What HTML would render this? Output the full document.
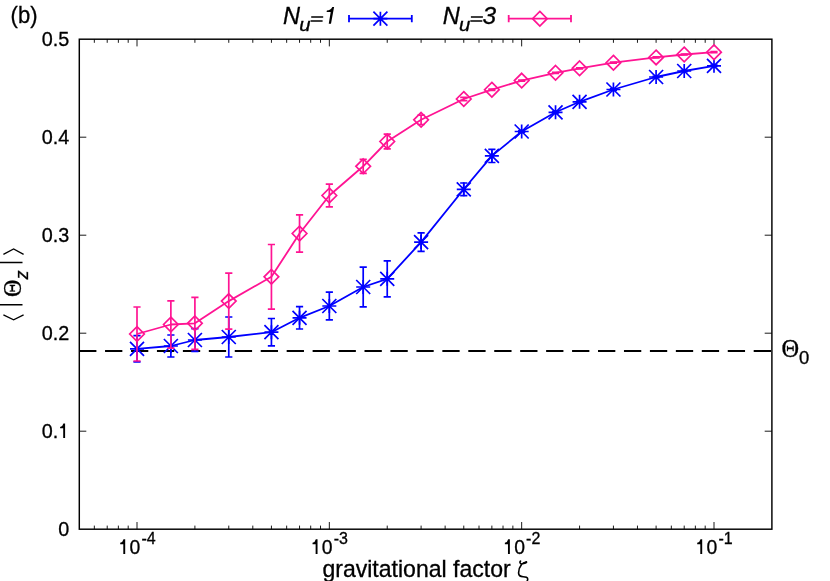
<!DOCTYPE html>
<html><head><meta charset="utf-8"><title>plot</title>
<style>html,body{margin:0;padding:0;background:#fff}svg{display:block;will-change:transform}text{font-family:"Liberation Sans",sans-serif;fill:#000;stroke:#000;stroke-width:0.3px}.s{font-family:"Liberation Serif",serif}</style></head>
<body>
<svg width="830" height="581" viewBox="0 0 830 581">
<rect width="830" height="581" fill="#fff"/>
<path d="M94.33 529.2v-3.6M94.33 39.2v3.6M107.21 529.2v-3.6M107.21 39.2v3.6M118.36 529.2v-3.6M118.36 39.2v3.6M128.2 529.2v-3.6M128.2 39.2v3.6M137 529.2v-7.2M137 39.2v7.2M194.9 529.2v-3.6M194.9 39.2v3.6M228.77 529.2v-3.6M228.77 39.2v3.6M252.8 529.2v-3.6M252.8 39.2v3.6M271.43 529.2v-3.6M271.43 39.2v3.6M286.66 529.2v-3.6M286.66 39.2v3.6M299.54 529.2v-3.6M299.54 39.2v3.6M310.69 529.2v-3.6M310.69 39.2v3.6M320.53 529.2v-3.6M320.53 39.2v3.6M329.33 529.2v-7.2M329.33 39.2v7.2M387.23 529.2v-3.6M387.23 39.2v3.6M421.1 529.2v-3.6M421.1 39.2v3.6M445.13 529.2v-3.6M445.13 39.2v3.6M463.77 529.2v-3.6M463.77 39.2v3.6M479 529.2v-3.6M479 39.2v3.6M491.87 529.2v-3.6M491.87 39.2v3.6M503.03 529.2v-3.6M503.03 39.2v3.6M512.87 529.2v-3.6M512.87 39.2v3.6M521.67 529.2v-7.2M521.67 39.2v7.2M579.57 529.2v-3.6M579.57 39.2v3.6M613.43 529.2v-3.6M613.43 39.2v3.6M637.46 529.2v-3.6M637.46 39.2v3.6M656.1 529.2v-3.6M656.1 39.2v3.6M671.33 529.2v-3.6M671.33 39.2v3.6M684.21 529.2v-3.6M684.21 39.2v3.6M695.36 529.2v-3.6M695.36 39.2v3.6M705.2 529.2v-3.6M705.2 39.2v3.6M714 529.2v-7.2M714 39.2v7.2M79.1 431.2h7.2M771.9 431.2h-7.2M79.1 333.2h7.2M771.9 333.2h-7.2M79.1 235.2h7.2M771.9 235.2h-7.2M79.1 137.2h7.2M771.9 137.2h-7.2" stroke="#000" stroke-width="0.9" fill="none"/>
<path d="M79.1 351H771.9" stroke="#000" stroke-width="2" stroke-dasharray="17.3 8.646" fill="none"/>
<path d="M137 335.7V361.9M133.4 335.7h7.2M133.4 361.9h7.2M170.87 335V357M167.27 335h7.2M167.27 357h7.2M194.9 328.7V351.3M191.3 328.7h7.2M191.3 351.3h7.2M228.77 317V357M225.17 317h7.2M225.17 357h7.2M271.43 318.5V345.9M267.83 318.5h7.2M267.83 345.9h7.2M299.54 306.6V329M295.94 306.6h7.2M295.94 329h7.2M329.33 292.2V319.8M325.73 292.2h7.2M325.73 319.8h7.2M363.2 267.2V306.8M359.6 267.2h7.2M359.6 306.8h7.2M387.23 260.8V296.8M383.63 260.8h7.2M383.63 296.8h7.2M421.1 232.8V251.4M417.5 232.8h7.2M417.5 251.4h7.2M463.77 183V195.6M460.17 183h7.2M460.17 195.6h7.2M491.87 149.3V162.5M488.27 149.3h7.2M488.27 162.5h7.2M521.67 130.9V132.1M518.07 130.9h7.2M518.07 132.1h7.2M555.54 111.7V112.9M551.94 111.7h7.2M551.94 112.9h7.2M579.57 101.2V102.4M575.97 101.2h7.2M575.97 102.4h7.2M613.43 88.9V90.1M609.83 88.9h7.2M609.83 90.1h7.2M656.1 76.4V77.6M652.5 76.4h7.2M652.5 77.6h7.2M684.21 70.4V71.6M680.61 70.4h7.2M680.61 71.6h7.2M714 65.2V66.4M710.4 65.2h7.2M710.4 66.4h7.2" stroke="#0000ff" stroke-width="1.7" fill="none"/>
<path d="M137 348.8 L170.87 346 L194.9 340 L228.77 337 L271.43 332.2 L299.54 317.8 L329.33 306 L363.2 287 L387.23 278.8 L421.1 242.1 L463.77 189.3 L491.87 155.9 L521.67 131.5 L555.54 112.3 L579.57 101.8 L613.43 89.5 L656.1 77 L684.21 71 L714 65.8" stroke="#0000ff" stroke-width="1.8" fill="none" stroke-linejoin="round"/>
<path d="M130 348.8h14.0M137 341.8v14.0M130 341.8l14.0 14.0M130 355.8l14.0 -14.0M163.87 346h14.0M170.87 339v14.0M163.87 339l14.0 14.0M163.87 353l14.0 -14.0M187.9 340h14.0M194.9 333v14.0M187.9 333l14.0 14.0M187.9 347l14.0 -14.0M221.77 337h14.0M228.77 330v14.0M221.77 330l14.0 14.0M221.77 344l14.0 -14.0M264.43 332.2h14.0M271.43 325.2v14.0M264.43 325.2l14.0 14.0M264.43 339.2l14.0 -14.0M292.54 317.8h14.0M299.54 310.8v14.0M292.54 310.8l14.0 14.0M292.54 324.8l14.0 -14.0M322.33 306h14.0M329.33 299v14.0M322.33 299l14.0 14.0M322.33 313l14.0 -14.0M356.2 287h14.0M363.2 280v14.0M356.2 280l14.0 14.0M356.2 294l14.0 -14.0M380.23 278.8h14.0M387.23 271.8v14.0M380.23 271.8l14.0 14.0M380.23 285.8l14.0 -14.0M414.1 242.1h14.0M421.1 235.1v14.0M414.1 235.1l14.0 14.0M414.1 249.1l14.0 -14.0M456.77 189.3h14.0M463.77 182.3v14.0M456.77 182.3l14.0 14.0M456.77 196.3l14.0 -14.0M484.87 155.9h14.0M491.87 148.9v14.0M484.87 148.9l14.0 14.0M484.87 162.9l14.0 -14.0M514.67 131.5h14.0M521.67 124.5v14.0M514.67 124.5l14.0 14.0M514.67 138.5l14.0 -14.0M548.54 112.3h14.0M555.54 105.3v14.0M548.54 105.3l14.0 14.0M548.54 119.3l14.0 -14.0M572.57 101.8h14.0M579.57 94.8v14.0M572.57 94.8l14.0 14.0M572.57 108.8l14.0 -14.0M606.43 89.5h14.0M613.43 82.5v14.0M606.43 82.5l14.0 14.0M606.43 96.5l14.0 -14.0M649.1 77h14.0M656.1 70v14.0M649.1 70l14.0 14.0M649.1 84l14.0 -14.0M677.21 71h14.0M684.21 64v14.0M677.21 64l14.0 14.0M677.21 78l14.0 -14.0M707 65.8h14.0M714 58.8v14.0M707 58.8l14.0 14.0M707 72.8l14.0 -14.0" stroke="#0000ff" stroke-width="1.7" fill="none"/>
<path d="M137 307V361M133.4 307h7.2M133.4 361h7.2M170.87 300.8V348.2M167.27 300.8h7.2M167.27 348.2h7.2M194.9 297.3V349.3M191.3 297.3h7.2M191.3 349.3h7.2M228.77 273.1V329.1M225.17 273.1h7.2M225.17 329.1h7.2M271.43 244.5V309.1M267.83 244.5h7.2M267.83 309.1h7.2M299.54 214.9V252.1M295.94 214.9h7.2M295.94 252.1h7.2M329.33 184.2V206.8M325.73 184.2h7.2M325.73 206.8h7.2M363.2 159.3V173.3M359.6 159.3h7.2M359.6 173.3h7.2M387.23 134.2V148.8M383.63 134.2h7.2M383.63 148.8h7.2M421.1 115.1V124.5M417.5 115.1h7.2M417.5 124.5h7.2M463.77 97.4V100.6M460.17 97.4h7.2M460.17 100.6h7.2M491.87 89.1V90.3M488.27 89.1h7.2M488.27 90.3h7.2M521.67 80.1V81.1M518.07 80.1h7.2M518.07 81.1h7.2M555.54 72.3V73.3M551.94 72.3h7.2M551.94 73.3h7.2M579.57 67.8V68.8M575.97 67.8h7.2M575.97 68.8h7.2M613.43 62.2V63.2M609.83 62.2h7.2M609.83 63.2h7.2M656.1 56.9V57.9M652.5 56.9h7.2M652.5 57.9h7.2M684.21 54V55M680.61 54h7.2M680.61 55h7.2M714 51.7V52.7M710.4 51.7h7.2M710.4 52.7h7.2" stroke="#ff1493" stroke-width="1.7" fill="none"/>
<path d="M137 334 L170.87 324.5 L194.9 323.3 L228.77 301.1 L271.43 276.8 L299.54 233.5 L329.33 195.5 L363.2 166.3 L387.23 141.5 L421.1 119.8 L463.77 99 L491.87 89.7 L521.67 80.6 L555.54 72.8 L579.57 68.3 L613.43 62.7 L656.1 57.4 L684.21 54.5 L714 52.2" stroke="#ff1493" stroke-width="1.8" fill="none" stroke-linejoin="round"/>
<path d="M137 326.7L144.3 334L137 341.3L129.7 334ZM170.87 317.2L178.17 324.5L170.87 331.8L163.57 324.5ZM194.9 316L202.2 323.3L194.9 330.6L187.6 323.3ZM228.77 293.8L236.07 301.1L228.77 308.4L221.47 301.1ZM271.43 269.5L278.73 276.8L271.43 284.1L264.13 276.8ZM299.54 226.2L306.84 233.5L299.54 240.8L292.24 233.5ZM329.33 188.2L336.63 195.5L329.33 202.8L322.03 195.5ZM363.2 159L370.5 166.3L363.2 173.6L355.9 166.3ZM387.23 134.2L394.53 141.5L387.23 148.8L379.93 141.5ZM421.1 112.5L428.4 119.8L421.1 127.1L413.8 119.8ZM463.77 91.7L471.07 99L463.77 106.3L456.47 99ZM491.87 82.4L499.17 89.7L491.87 97L484.57 89.7ZM521.67 73.3L528.97 80.6L521.67 87.9L514.37 80.6ZM555.54 65.5L562.84 72.8L555.54 80.1L548.24 72.8ZM579.57 61L586.87 68.3L579.57 75.6L572.27 68.3ZM613.43 55.4L620.73 62.7L613.43 70L606.13 62.7ZM656.1 50.1L663.4 57.4L656.1 64.7L648.8 57.4ZM684.21 47.2L691.51 54.5L684.21 61.8L676.91 54.5ZM714 44.9L721.3 52.2L714 59.5L706.7 52.2Z" stroke="#ff1493" stroke-width="1.7" fill="none"/>
<path d="M349 18.7H411.8M349 15.1v7.2M411.8 15.1v7.2" stroke="#0000ff" stroke-width="1.8" fill="none"/>
<path d="M373.4 18.7h14.0M380.4 11.7v14.0M373.4 11.7l14.0 14.0M373.4 25.7l14.0 -14.0" stroke="#0000ff" stroke-width="1.7" fill="none"/>
<path d="M508.7 18.7H571M508.7 15.1v7.2M571 15.1v7.2" stroke="#ff1493" stroke-width="1.8" fill="none"/>
<path d="M539.85 11.4L547.15 18.7L539.85 26L532.55 18.7Z" stroke="#ff1493" stroke-width="1.7" fill="none"/>
<rect x="79.3" y="39.2" width="692.6" height="490" fill="none" stroke="#000" stroke-width="1.45"/>
<text transform="translate(10.6 22.9) scale(0.97 1.05)" font-size="22.67">(b)</text>
<text transform="translate(283.1 23.6) scale(1.04 1.03)" font-size="22.67" font-style="italic">N</text>
<text transform="translate(299.3 30.7) scale(1.12 1.03)" font-size="18.1" font-style="italic">u</text>
<path d="M311.2 17H323.2M310.6 20.9H322.6" stroke="#000" stroke-width="1.55" fill="none"/>
<path d="M332.3 7.06L334.1 7.06L331 23.7L328.75 23.7L330.7 12.1L326.6 12.1L326.9 10.6Q330.8 10.2 332.3 7.06Z" fill="#000"/>
<text transform="translate(442.8 23.6) scale(1.04 1.03)" font-size="22.67" font-style="italic">N</text>
<text transform="translate(459 30.7) scale(1.12 1.03)" font-size="18.1" font-style="italic">u</text>
<path d="M470.9 17H482.9M470.3 20.9H482.3" stroke="#000" stroke-width="1.55" fill="none"/>
<text transform="translate(482.4 23.6) scale(1.08 1.03)" font-size="22.67" font-style="italic">3</text>
<text transform="translate(69.3 536.2) scale(0.99 1.055)" font-size="20" text-anchor="end">0</text>
<text transform="translate(41.8 438.2) scale(0.99 1.055)" font-size="20">0.</text>
<path d="M63.4 423.4H65.1V438.1H63.2V428.3H60.1V427Q62.7 426.5 63.4 423.4Z" fill="#000"/>
<text transform="translate(69.3 340.2) scale(0.99 1.055)" font-size="20" text-anchor="end">0.2</text>
<text transform="translate(69.3 242.2) scale(0.99 1.055)" font-size="20" text-anchor="end">0.3</text>
<text transform="translate(69.3 144.2) scale(0.99 1.055)" font-size="20" text-anchor="end">0.4</text>
<text transform="translate(69.3 46.2) scale(0.99 1.055)" font-size="20" text-anchor="end">0.5</text>
<path d="M123.5 539.25H125.2V553.95H123.3V544.15H120.2V542.85Q122.8 542.35 123.5 539.25Z" fill="#000"/>
<text transform="translate(129.5 553.9) scale(0.97 1.055)" font-size="20">0</text>
<text transform="translate(141.4 544.3) scale(1 1.03)" font-size="16">-4</text>
<path d="M315.83 539.25H317.53V553.95H315.63V544.15H312.53V542.85Q315.13 542.35 315.83 539.25Z" fill="#000"/>
<text transform="translate(321.83 553.9) scale(0.97 1.055)" font-size="20">0</text>
<text transform="translate(333.73 544.3) scale(1 1.03)" font-size="16">-3</text>
<path d="M508.17 539.25H509.87V553.95H507.97V544.15H504.87V542.85Q507.47 542.35 508.17 539.25Z" fill="#000"/>
<text transform="translate(514.17 553.9) scale(0.97 1.055)" font-size="20">0</text>
<text transform="translate(526.07 544.3) scale(1 1.03)" font-size="16">-2</text>
<path d="M700.5 539.25H702.2V553.95H700.3V544.15H697.2V542.85Q699.8 542.35 700.5 539.25Z" fill="#000"/>
<text transform="translate(706.5 553.9) scale(0.97 1.055)" font-size="20">0</text>
<text transform="translate(718.4 544.3) scale(1 1.03)" font-size="16">-1</text>
<text transform="translate(322.4 577.4) scale(1.0175 1.035)" font-size="22.67">gravitational factor</text>
<path transform="translate(0.1 0.8)" d="M520.4 560.3C519.3 561.5 520 563.3 521.7 563.2L526.2 561.4M521.7 563.2C519.6 566 518.4 569.5 518.5 572.3C518.6 575 520.5 575.8 523 575.9C525.6 576 527.7 576.6 527.6 578.4C527.5 579.6 527.1 580.4 526.3 581.2" stroke="#000" stroke-width="1.6" fill="none" stroke-linecap="round" stroke-linejoin="round"/>
<path transform="translate(0.1 0.8)" d="M523.6 562.4L526.2 561.4" stroke="#000" stroke-width="2.1" fill="none" stroke-linecap="round"/>
<text x="781.6" y="356.5" font-size="24.4" class="s" stroke="#000" stroke-width="0.3">Θ</text>
<text x="799" y="363.8" font-size="18.5">0</text>
<path d="M3.4 254.4L13.6 249L23.6 254.4M3.4 314.9L13.6 319.8L23.6 314.9" stroke="#000" stroke-width="1.3" fill="none"/>
<path d="M-1 262.5H22.5M-1 304.8H22.5" stroke="#000" stroke-width="1.4" fill="none"/>
<text transform="translate(21.0 297.0) rotate(-90)" font-size="24.2" class="s" stroke="#000" stroke-width="0.3">Θ</text>
<text transform="translate(27.8 279.5) rotate(-90)" font-size="18.1" font-style="italic">z</text>
</svg>
</body></html>
